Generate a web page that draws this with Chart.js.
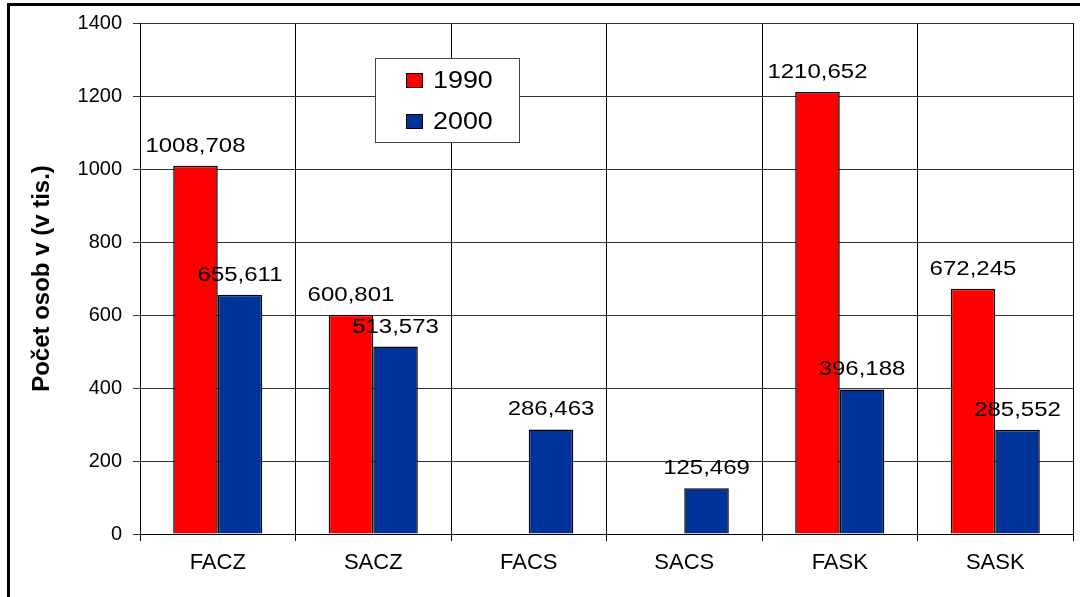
<!DOCTYPE html>
<html>
<head>
<meta charset="utf-8">
<script src="https://cdn.jsdelivr.net/npm/chart.js@4/dist/chart.umd.min.js"></script>
<style>
  html, body { margin: 0; padding: 0; background: #fff; }
  #wrap { width: 1080px; height: 597px; position: relative; }
</style>
</head>
<body>
<div id="wrap"><canvas id="c" width="1080" height="597"></canvas></div>
<script>
const categories = ['FACZ', 'SACZ', 'FACS', 'SACS', 'FASK', 'SASK'];
const values1990 = [1008.708, 600.801, null, null, 1210.652, 672.245];
const values2000 = [655.611, 513.573, 286.463, 125.469, 396.188, 285.552];
const seriesNames = ['1990', '2000'];
const yTitle = 'Počet osob v (v tis.)';
const yMin = 0, yMax = 1400, yStep = 200;

const RED = '#FF0000';
const BLUE = '#003399';
const FONT = '"Liberation Sans", Arial, sans-serif';

function fmt(v) { return v.toFixed(3).replace('.', ','); }

function drawStretched(ctx, text, x, y, size, sx, align) {
  ctx.save();
  ctx.font = size + 'px ' + FONT;
  ctx.fillStyle = '#000';
  ctx.textAlign = align || 'center';
  ctx.textBaseline = 'alphabetic';
  ctx.translate(x, y);
  ctx.scale(sx, 1);
  ctx.fillText(text, 0, 0);
  ctx.restore();
}

const framePlugin = {
  id: 'frame',
  beforeDraw(chart) {
    const ctx = chart.ctx;
    ctx.save();
    ctx.fillStyle = '#fff';
    ctx.fillRect(0, 0, chart.width, chart.height);
    ctx.strokeStyle = '#000';
    ctx.lineWidth = 3;
    ctx.strokeRect(8.5, 4.5, chart.width + 20, chart.height + 20);
    ctx.restore();
  }
};

const labelPlugin = {
  id: 'valueLabels',
  afterDatasetsDraw(chart) {
    const ctx = chart.ctx;
    chart.data.datasets.forEach((ds, di) => {
      const meta = chart.getDatasetMeta(di);
      meta.data.forEach((el, i) => {
        const v = ds.data[i];
        if (v === null || v === undefined) return;
        drawStretched(ctx, fmt(v), el.x, el.y - 14, 20, 1.2, 'center');
      });
    });
  }
};

const legendPlugin = {
  id: 'boxLegend',
  afterDraw(chart) {
    const ctx = chart.ctx;
    const a = chart.chartArea;
    const bx = a.left + 235, by = a.top + 35, bw = 144, bh = 84;
    ctx.save();
    ctx.fillStyle = '#fff';
    ctx.fillRect(bx, by, bw, bh);
    ctx.strokeStyle = '#444';
    ctx.lineWidth = 1;
    ctx.strokeRect(bx + 0.5, by + 0.5, bw, bh);
    chart.data.datasets.forEach((ds, i) => {
      const rowY = by + 15 + i * 41;
      ctx.fillStyle = ds.backgroundColor;
      ctx.fillRect(bx + 31, rowY, 17, 15);
      ctx.strokeStyle = '#000';
      ctx.strokeRect(bx + 31.5, rowY + 0.5, 16, 14);
      drawStretched(ctx, ds.label, bx + 58, rowY + 15, 24, 1.12, 'left');
    });
    ctx.restore();
  }
};

new Chart(document.getElementById('c'), {
  type: 'bar',
  data: {
    labels: categories,
    datasets: [
      { label: seriesNames[0], data: values1990, backgroundColor: RED, borderColor: '#000', borderWidth: 1.5 },
      { label: seriesNames[1], data: values2000, backgroundColor: BLUE, borderColor: '#000', borderWidth: 1.5 }
    ]
  },
  options: {
    responsive: false,
    animation: false,
    devicePixelRatio: 1,
    categoryPercentage: 0.573,
    barPercentage: 1.0,
    layout: { padding: { left: 0, right: 7, top: 22, bottom: 0 } },
    plugins: {
      legend: { display: false },
      tooltip: { enabled: false },
      title: { display: false }
    },
    scales: {
      x: {
        offset: true,
        grid: { offset: true, color: '#000', lineWidth: 1, tickLength: 7, drawTicks: true },
        border: { color: '#000', width: 1 },
        ticks: { color: '#000', font: { family: FONT, size: 22 }, padding: 9, maxRotation: 0 },
        afterFit(s) { s.height = 63; }
      },
      y: {
        min: yMin, max: yMax,
        grid: { color: '#333', lineWidth: 1, tickLength: 7, drawTicks: true },
        border: { color: '#000', width: 1 },
        ticks: {
          stepSize: yStep, color: '#000', font: { family: FONT, size: 20 }, padding: 11,
          callback: (v) => String(v)
        },
        title: {
          display: true, text: yTitle, color: '#000',
          font: { family: FONT, size: 24, weight: 'bold' },
          padding: { top: 28, bottom: 0 }
        },
        afterFit(s) { s.width = 140; }
      }
    }
  },
  plugins: [framePlugin, labelPlugin, legendPlugin]
});
</script>
</body>
</html>
